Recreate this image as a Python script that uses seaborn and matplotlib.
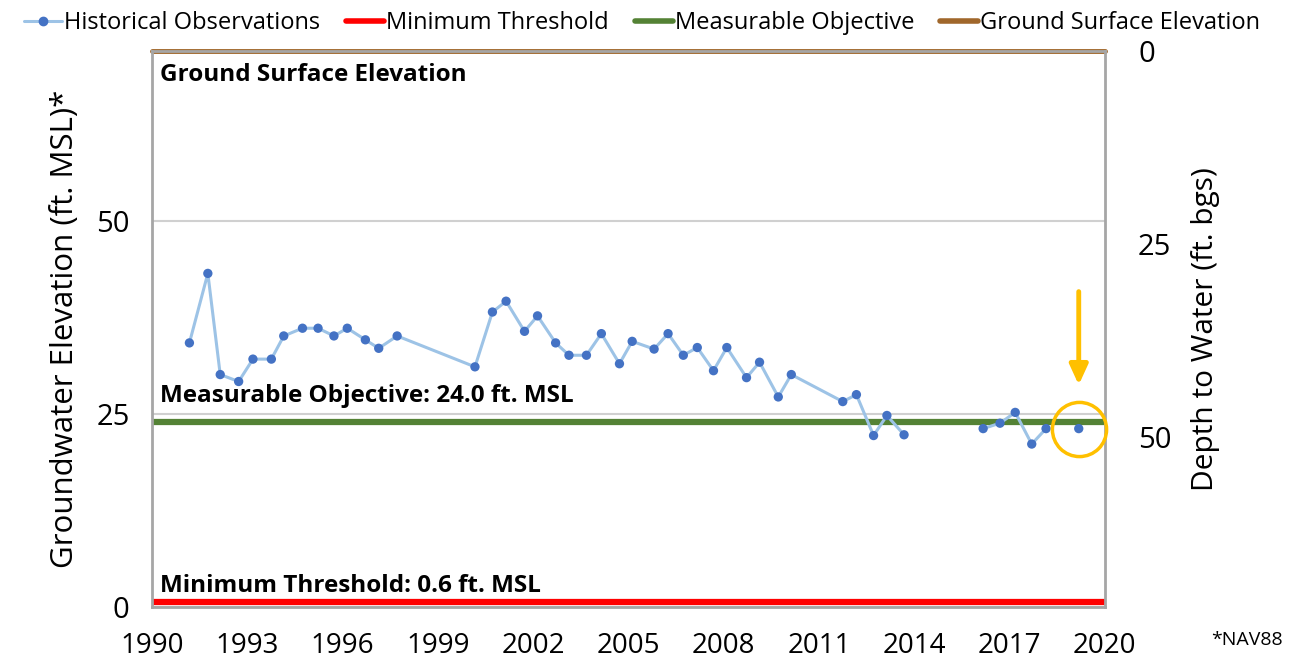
import numpy as np
import pandas as pd
import matplotlib
matplotlib.use("Agg")
import matplotlib.pyplot as plt
import seaborn as sns

# observation dates (decimal years) and groundwater elevations (ft MSL)
years = [1991.18, 1991.76, 1992.15, 1992.73, 1993.18, 1993.76, 1994.15, 1994.74,
         1995.23, 1995.73, 1996.15, 1996.72, 1997.14, 1997.72, 2000.17, 2000.72,
         2001.15, 2001.73, 2002.14, 2002.71, 2003.13, 2003.68, 2004.15, 2004.72,
         2005.12, 2005.81, 2006.25, 2006.73, 2007.17, 2007.68, 2008.10, 2008.72,
         2009.13, 2009.72, 2010.13, 2011.75, 2012.18, 2012.72, 2013.14, 2013.68,
         2016.17, 2016.70, 2017.18, 2017.70, 2018.15,
         2019.18]
elev = [34.2, 43.2, 30.1, 29.2, 32.1, 32.1, 35.1, 36.1,
        36.1, 35.1, 36.1, 34.6, 33.5, 35.1, 31.1, 38.2,
        39.6, 35.7, 37.7, 34.2, 32.6, 32.6, 35.4, 31.5,
        34.4, 33.4, 35.4, 32.6, 33.6, 30.6, 33.6, 29.7,
        31.7, 27.2, 30.1, 26.6, 27.5, 22.2, 24.8, 22.3,
        23.1, 23.8, 25.2, 21.1, 23.1,
        23.1]
segment = [0] * 40 + [1] * 5 + [2]

ground_surface = 72.0
measurable_objective = 24.0
minimum_threshold = 0.6

year_ticks = [1990, 1993, 1996, 1999, 2002, 2005, 2008, 2011, 2014, 2017, 2020]
elev_ticks = [0, 25, 50]
depth_ticks = [0, 25, 50]

df = pd.DataFrame({"year": years, "elev": elev, "seg": segment})

sns.set_style("white")
plt.rcParams["font.family"] = ["Open Sans", "DejaVu Sans"]
plt.rcParams["text.color"] = "black"
plt.rcParams["axes.labelcolor"] = "black"
plt.rcParams["xtick.color"] = "black"
plt.rcParams["ytick.color"] = "black"

fig = plt.figure(figsize=(12.92, 6.67), dpi=100)
ax = fig.add_axes([0.1176, 0.09, 0.7375, 0.8335])

for v in elev_ticks:
    ax.axhline(v, color="#D0D0D0", lw=1.5, zorder=0)

ax.axhline(minimum_threshold, color="#FF0000", lw=4.5, zorder=2)
ax.axhline(measurable_objective, color="#548235", lw=4.5, zorder=2)
ax.axhline(ground_surface, color="#A0672B", lw=3.5, zorder=2, clip_on=False)

sns.lineplot(data=df, x="year", y="elev", units="seg", estimator=None,
             color="#9DC3E6", lw=2.2, ax=ax, zorder=3)
sns.scatterplot(data=df, x="year", y="elev", color="#4472C4", s=45,
                edgecolor="none", ax=ax, zorder=4)

# highlight latest reading
ax.plot(years[-1], elev[-1], marker="o", ms=39, mfc="none", mec="#FFC000",
        mew=2.5, zorder=5, clip_on=False)
ax.annotate("", xy=(years[-1], 28.4), xytext=(years[-1], 41.2),
            arrowprops=dict(arrowstyle="-|>,head_width=0.55,head_length=1.2",
                            color="#FFC000", lw=3.5))

ax.text(1990.25, 68.9, "Ground Surface Elevation", fontsize=17.5, fontweight="bold",
        va="center")
ax.text(1990.25, 27.3, "Measurable Objective: 24.0 ft. MSL", fontsize=17.5,
        fontweight="bold", va="center")
ax.text(1990.25, 2.75, "Minimum Threshold: 0.6 ft. MSL", fontsize=17.5,
        fontweight="bold", va="center")

ax.set_xlim(1990, 2020)
ax.set_ylim(0, ground_surface)
ax.set_xticks(year_ticks)
ax.set_yticks(elev_ticks)
ax.tick_params(axis="x", labelsize=20, length=0, pad=18)
ax.tick_params(axis="y", labelsize=21, length=0, pad=16)
ax.set_xlabel("")
ax.set_ylabel("Groundwater Elevation (ft. MSL)*", fontsize=22.5, labelpad=12)
for s in ax.spines.values():
    s.set_color("#A6A6A6")
    s.set_linewidth(2)

ax2 = ax.twinx()
ax2.set_ylim(0, ground_surface)
ax2.set_yticks([ground_surface - d for d in depth_ticks])
ax2.set_yticklabels([str(d) for d in depth_ticks])
ax2.tick_params(labelsize=21, length=0, pad=24)
ax2.set_ylabel("Depth to Water (ft. bgs)", fontsize=21.5, labelpad=14)
for s in ax2.spines.values():
    s.set_visible(False)

handles = [
    plt.Line2D([], [], color="#9DC3E6", lw=2.2, marker="o", ms=6,
               mfc="#4472C4", mec="#4472C4"),
    plt.Line2D([], [], color="#FF0000", lw=4),
    plt.Line2D([], [], color="#548235", lw=4),
    plt.Line2D([], [], color="#A0672B", lw=4),
]
labels = ["Historical Observations", "Minimum Threshold", "Measurable Objective",
          "Ground Surface Elevation"]
fig.legend(handles, labels, loc="upper center", bbox_to_anchor=(0.497, 1.015),
           ncol=4, frameon=False, fontsize=17, handlelength=1.6,
           handletextpad=0.1, columnspacing=1.1)

fig.text(0.993, 0.04, "*NAV88", fontsize=14, ha="right", va="center")

fig.savefig("out.png", dpi=100)
